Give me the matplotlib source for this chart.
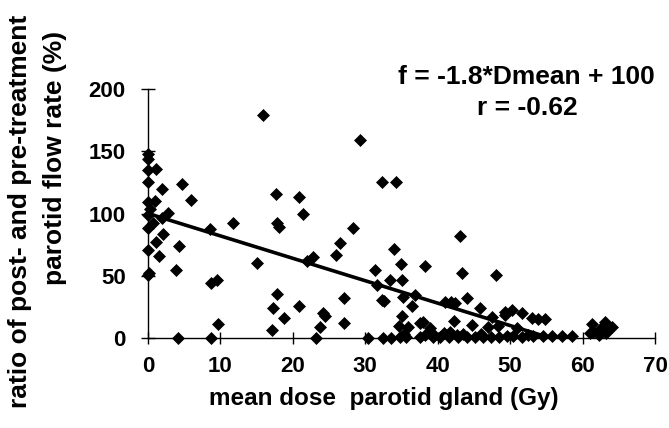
import matplotlib
matplotlib.use("Agg")
import matplotlib.pyplot as plt

# mean dose parotid gland (Gy)
dose = [
    0, 0, 0, 1.1, 0, 1.9, 4.65, 5.9, 0, 0.9, 0, 2.8, 1.9, 8.6, 11.8, 0, 0.7, 2.1,
    1.1, 0, 4.3, 1.5, 0, 0.2, 3.8, 8.7, 9.5, 9.7, 4.2, 8.7, 0.3,
    15.9, 17.7, 20.8, 21.4, 17.8, 18.1, 26.5, 26.0, 15.0, 22.8, 22.0, 17.8, 17.3,
    18.8, 20.9, 24.1, 23.7, 17.1, 23.2, 28.3, 29.3, 27.0, 27.0, 24.4,
    32.3, 34.2, 33.9, 34.9, 38.3, 31.3, 31.6, 33.4, 35.1, 32.3, 32.6, 35.2, 36.9,
    36.4, 35.0, 34.7, 37.5, 35.9, 38.9, 38.0, 30.4, 32.4, 33.6, 34.8, 35.6, 35.3,
    37.6, 38.2, 39.4, 39.2,
    43.1, 43.3, 48.1, 44.0, 41.0, 41.8, 42.4, 45.8, 47.5, 49.3, 42.2, 44.8, 47.0,
    48.3, 40.8, 41.7, 42.6, 40.3, 41.5, 42.8, 44.0, 45.1, 46.3, 47.4, 48.5, 43.5, 46.0,
    49.3, 50.2, 51.6, 53.0, 53.9, 54.8, 50.9, 49.5, 50.4, 51.6, 52.5, 53.2, 54.6,
    55.8, 57.1, 58.5,
    61.3, 63.1, 64.0, 61.5, 62.2, 63.3, 61.0, 62.6,
]
# ratio of post- and pre-treatment parotid flow rate (%)
ratio = [
    148, 144, 135, 135.5, 125.5, 119.4, 124, 111, 109.5, 110, 98.8, 100.6, 96, 87.3,
    92, 88, 92, 83.5, 77.4, 71, 74, 65.9, 50.6, 52, 54.6, 43.9, 46.6, 11.2, 0, 0, 104,
    179, 116, 113.5, 99.6, 92, 89.4, 76, 67, 60.5, 65.3, 62, 35.3, 23.8,
    16.3, 25.7, 19.8, 9.1, 6.4, 0, 88, 159, 32, 12, 17.5,
    125.5, 125.5, 71.5, 59.4, 57.8, 55, 42.6, 46.6, 46.3, 30.5, 29.5, 33, 34.5,
    25.7, 18, 9.5, 12.3, 9, 7.8, 13, 0, 0, 0, 0.5, 1, 3,
    1, 2.4, 1, 4,
    82, 52.4, 50.6, 32, 29, 29, 28.4, 24, 17, 18.5, 14, 10.7, 9,
    10, 3.7, 5, 2.4, 0.5, 0.5, 1, 0.5, 1, 0.5, 1, 0.5, 3, 3,
    21, 22.5, 20, 15.8, 15, 15, 7.8, 2, 2, 1, 2.4, 2, 1.5,
    1.5, 1.5, 1.5,
    11.2, 13, 9, 5, 2.4, 3.7, 3.7, 7.8,
]

# regression line end points (f = -1.8*Dmean + 100)
fit_x = [0, 55]
fit_y = [100, 1]

x_ticks = [0, 10, 20, 30, 40, 50, 60, 70]
y_ticks = [0, 50, 100, 150, 200]

FONT = "Liberation Sans"

fig = plt.figure(figsize=(6.69, 4.28), dpi=100)
ax = fig.add_axes([148/669, 90/428, (655-148)/669, (338-89)/428])

ax.plot(fit_x, fit_y, color="black", lw=2.6, solid_capstyle="butt", zorder=2)
ax.plot(dose, ratio, linestyle="none", marker="D", ms=6.5, mfc="black",
        mec="black", mew=0.5, clip_on=False, zorder=3)

ax.set_xlim(0, 70)
ax.set_ylim(0, 200)
ax.set_xticks(x_ticks)
ax.set_yticks(y_ticks)
for s in ["top", "right"]:
    ax.spines[s].set_visible(False)
for s in ["left", "bottom"]:
    ax.spines[s].set_linewidth(1.0)
ax.tick_params(axis="y", direction="inout", length=10, width=1, pad=11)
ax.tick_params(axis="x", direction="inout", length=8, width=1, pad=9)
for lab in ax.get_xticklabels() + ax.get_yticklabels():
    lab.set_fontfamily(FONT)
    lab.set_fontweight("bold")
    lab.set_fontsize(16)

fig.text(20/669, 1-211/428, "ratio of post- and pre-treatment", rotation=90,
         ha="center", va="center", fontsize=19, fontweight="bold", family=FONT)
fig.text(55/669, 1-158/428, "parotid flow rate (%)", rotation=90,
         ha="center", va="center", fontsize=19, fontweight="bold", family=FONT)
fig.text(384/669, 1-398/428, "mean dose  parotid gland (Gy)",
         ha="center", va="center", fontsize=17.5, fontweight="bold", family=FONT)
fig.text(526/669, 1-77/428, "f = -1.8*Dmean + 100",
         ha="center", va="center", fontsize=19, fontweight="bold", family=FONT)
fig.text(527/669, 1-108/428, "r = -0.62",
         ha="center", va="center", fontsize=19, fontweight="bold", family=FONT)

fig.savefig("out.png", dpi=100)
